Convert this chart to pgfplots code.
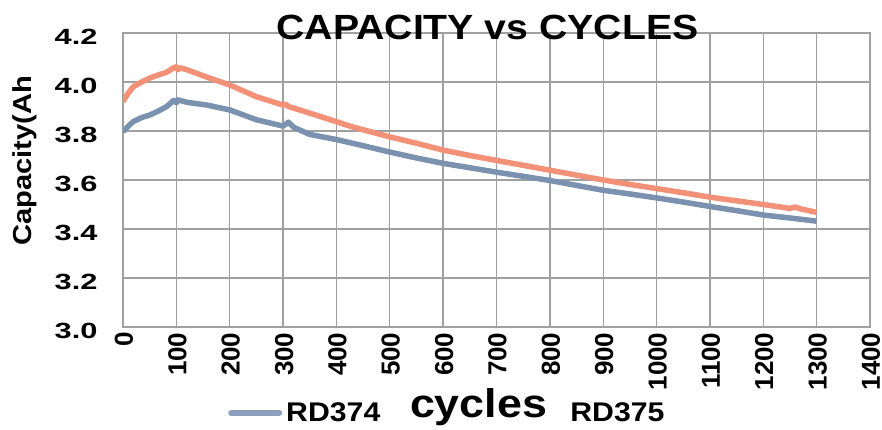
\documentclass[border=0pt]{standalone}
\usepackage{pgfplots}
\pgfplotsset{compat=1.18}
\usepackage{fontspec}
\setmainfont{Liberation Sans}
\newfontfamily\wide[FakeStretch=1.12]{Liberation Sans}
\newfontfamily\wider[FakeStretch=1.4]{Liberation Sans}
\definecolor{blu}{RGB}{122,146,176}
\definecolor{blulight}{RGB}{140,160,190}
\definecolor{ora}{RGB}{242,145,120}
\definecolor{gridc}{RGB}{160,160,160}
\begin{document}
\begin{tikzpicture}[x=1pt,y=1pt]
\path[use as bounding box] (0,0) rectangle (882,-430);
\begin{axis}[
  at={(123pt,-327pt)}, anchor=south west,
  scale only axis, width=747pt, height=294pt,
  xmin=0, xmax=1400, ymin=3.0, ymax=4.2,
  xtick={0,100,...,1400},
  ytick={3.0,3.2,3.4,3.6,3.8,4.0,4.2},
  grid=major,
  major grid style={gridc, line width=1.3pt},
  axis line style={gridc, line width=1.3pt},
  tick style={draw=none},
  /pgf/number format/assume math mode=true,
  xticklabel style={/pgf/number format/1000 sep={}, rotate=90, anchor=east, font=\fontsize{26}{26}\selectfont\bfseries, yshift=-1pt, xshift=-2pt},
  yticklabel style={/pgf/number format/fixed, /pgf/number format/precision=1, /pgf/number format/fixed zerofill, font=\wider\fontsize{22}{22}\selectfont\bfseries, anchor=east, xshift=-22pt, yshift=-4pt},
  xlabel={cycles},
  xlabel style={at={(axis description cs:0.476,-0.3095)}, anchor=base, font=\wide\fontsize{40}{40}\selectfont\bfseries, inner sep=0pt},
  ylabel={Capacity(Ah},
  ylabel style={at={(axis description cs:-0.131,0.565)}, anchor=center, font=\wide\fontsize{26}{26}\selectfont\bfseries},
  title={CAPACITY vs CYCLES},
  title style={at={(axis description cs:0.488,1.0)}, anchor=base, yshift=-13pt, font=\wide\fontsize{35}{35}\selectfont\bfseries, inner sep=0pt},
  legend columns=2,
  legend style={at={(axis description cs:0.1406,-0.2925)}, anchor=west, draw=none, fill=none, inner sep=0pt,
    font=\wide\fontsize{27}{27}\selectfont\bfseries,
    cells={anchor=west},
    /tikz/every odd column/.append style={column sep=2pt},
    /tikz/every even column/.append style={column sep=130pt}},
]
\addplot[blu, line width=5.5pt, line join=round, forget plot] coordinates {
(0,3.797) (10,3.82) (19,3.838) (35,3.855) (50,3.865) (65,3.88) (82,3.90) (95,3.925) (100,3.915) (103,3.927)
(120,3.917) (157,3.906) (200,3.886) (250,3.846) (300,3.82) (310,3.836) (320,3.815) (350,3.786) (400,3.765)
(450,3.74) (500,3.714) (550,3.69) (600,3.668) (650,3.65) (700,3.632) (750,3.615) (800,3.598) (850,3.578)
(900,3.558) (950,3.543) (1000,3.527) (1050,3.51) (1100,3.492) (1150,3.475) (1200,3.457) (1250,3.445) (1300,3.432)
};
\addplot[ora, line width=5.5pt, line join=round, forget plot] coordinates {
(0,3.92) (10,3.955) (19,3.98) (35,4.0) (50,4.016) (65,4.028) (82,4.04) (95,4.058) (100,4.062) (103,4.05) (107,4.058)
(120,4.05) (157,4.02) (200,3.988) (250,3.94) (300,3.906) (305,3.91) (310,3.9) (350,3.873) (400,3.838) (425,3.82)
(450,3.805) (500,3.776) (550,3.75) (600,3.722) (650,3.70) (700,3.68) (750,3.66) (800,3.64) (850,3.62) (900,3.60)
(950,3.582) (1000,3.565) (1050,3.548) (1100,3.53) (1150,3.515) (1200,3.50) (1250,3.484) (1260,3.49) (1270,3.482) (1300,3.468)
};
\addlegendimage{legend image code/.code={\draw[blulight, line width=6pt, line cap=round] (3pt,0pt) -- (51pt,0pt);}}
\addlegendentry{RD374}
\addlegendimage{draw=none, legend image code/.code={\path[draw=none] (0pt,0pt) -- (54pt,0pt);}}
\addlegendentry{RD375}
\end{axis}
\end{tikzpicture}
\end{document}
